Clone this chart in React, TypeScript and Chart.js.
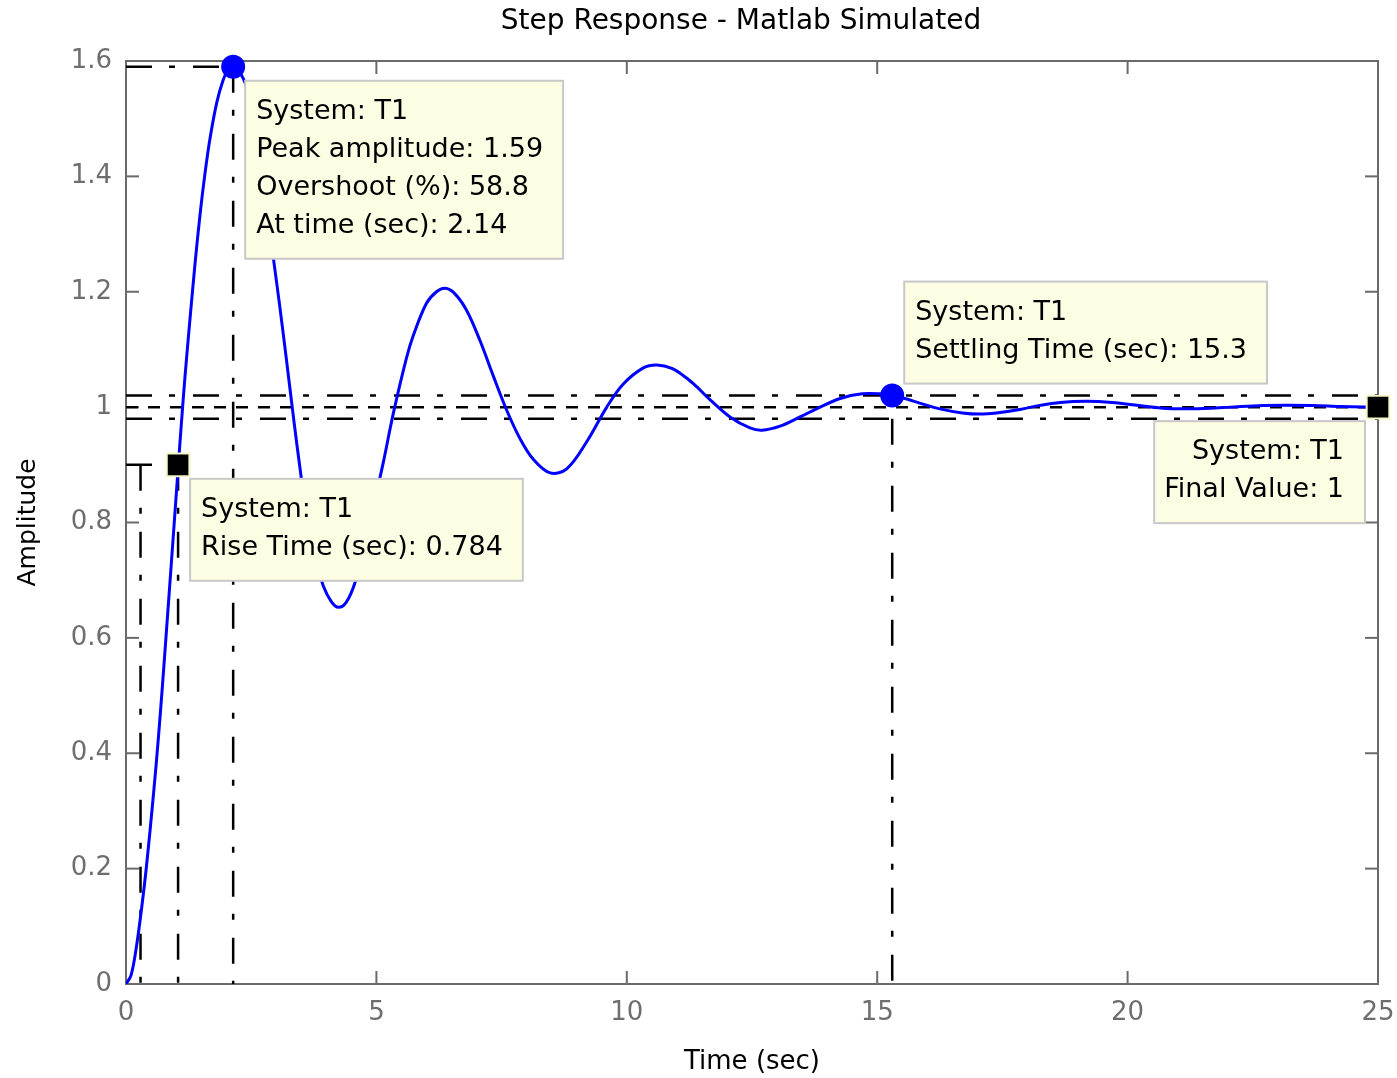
import React, { useEffect, useRef } from 'react';
import { Chart, registerables } from 'chart.js';

Chart.register(...registerables);

// ---- Data ----
const TIME = [
  0, 0.1, 0.2, 0.31, 0.41, 0.55, 0.65, 0.73, 0.81, 0.91, 0.98, 1.04, 1.1, 1.18, 1.28, 1.38, 1.48, 1.58, 1.68, 1.81, 1.94, 2.04, 2.14,
  2.34, 2.5, 2.7, 2.94, 3.07, 3.2, 3.35, 3.47, 3.6, 3.75, 3.94, 4.1, 4.24, 4.4, 4.57, 4.8, 5.0, 5.14, 5.34, 5.6, 5.74, 6.0, 6.2, 6.37,
  6.55, 6.8, 7.07, 7.33, 7.6, 7.87, 8.13, 8.47, 8.8, 9.2, 9.6, 9.93, 10.33, 10.6, 10.9, 11.2, 11.4, 11.66, 12.06, 12.46, 12.7, 13.06,
  13.46, 13.86, 14.26, 14.7, 15.05, 15.3, 15.59, 15.85, 16.25, 16.7, 17.05, 17.38, 17.85, 18.25, 18.65, 19.18, 19.7, 20.1, 20.7,
  21.18, 21.65, 22.05, 22.7, 23.7, 24.25, 25,
];
const AMPLITUDE = [
  0, 0.015, 0.06, 0.13, 0.205, 0.33, 0.43, 0.52, 0.615, 0.735, 0.82, 0.893, 0.965, 1.055, 1.155, 1.25, 1.335, 1.407, 1.467, 1.527, 1.567, 1.585, 1.59,
  1.57, 1.525, 1.42, 1.26, 1.175, 1.085, 0.978, 0.897, 0.815, 0.745, 0.69, 0.663, 0.653, 0.662, 0.695, 0.77, 0.85, 0.905, 0.99, 1.085, 1.125, 1.18, 1.2, 1.206,
  1.198, 1.168, 1.115, 1.055, 0.995, 0.945, 0.91, 0.886, 0.893, 0.94, 1.0, 1.04, 1.068, 1.073, 1.067, 1.05, 1.035, 1.013, 0.983, 0.964, 0.96, 0.967,
  0.983, 1.0, 1.015, 1.023, 1.023, 1.02, 1.014, 1.007, 0.997, 0.99, 0.988, 0.99, 0.996, 1.003, 1.008, 1.01, 1.008, 1.004, 0.998,
  0.997, 0.998, 1.0, 1.003, 1.003, 1.001, 1.0,
];

const X_TICKS = [0, 5, 10, 15, 20, 25];
const X_TICK_LABELS = ['0', '5', '10', '15', '20', '25'];
const Y_TICKS = [0, 0.2, 0.4, 0.6, 0.8, 1, 1.2, 1.4, 1.6];
const Y_TICK_LABELS = ['0', '0.2', '0.4', '0.6', '0.8', '1', '1.2', '1.4', '1.6'];

const PEAK_TIME = 2.14;
const PEAK_AMPLITUDE = 1.59;
const RISE_T10 = 0.29;
const RISE_T90 = 1.04;
const RISE_LEVEL = 0.9;
const SETTLING_TIME = 15.3;
const SETTLING_AMPLITUDE = 1.02;
const BAND_UPPER = 1.02;
const BAND_LOWER = 0.98;
const FINAL_TIME = 25;
const FINAL_VALUE = 1;

const TITLE = 'Step Response - Matlab Simulated';
const X_TITLE = 'Time (sec)';
const Y_TITLE = 'Amplitude';

const PEAK_LINES = ['System: T1', 'Peak amplitude: 1.59', 'Overshoot (%): 58.8', 'At time (sec): 2.14'];
const RISE_LINES = ['System: T1', 'Rise Time (sec): 0.784'];
const SETTLE_LINES = ['System: T1', 'Settling Time (sec): 15.3'];
const FINAL_LINES = ['System: T1', 'Final Value: 1'];

const FONT = "'DejaVu Sans', sans-serif";
const DASH_DOT = [26, 17, 6, 18];
const DASH = [12, 10];

const refLine = (pts: { x: number; y: number }[], dash: number[]) => ({
  type: 'line' as const,
  data: pts,
  borderColor: '#000000',
  borderWidth: 2.5,
  borderDash: dash,
  pointRadius: 0,
  fill: false,
  tension: 0,
});

const framePlugin = {
  id: 'frame',
  beforeDatasetsDraw(chart: any) {
    const { ctx, chartArea, scales } = chart;
    const { left, right, top, bottom } = chartArea;
    ctx.save();
    ctx.strokeStyle = '#6a6a6a';
    ctx.lineWidth = 2;
    ctx.strokeRect(left, top, right - left, bottom - top);
    const seg = (x1: number, y1: number, x2: number, y2: number) => {
      ctx.beginPath();
      ctx.moveTo(x1, y1);
      ctx.lineTo(x2, y2);
      ctx.stroke();
    };
    scales.x.ticks.forEach((t: any) => {
      const px = scales.x.getPixelForValue(t.value);
      seg(px, bottom, px, bottom - 13);
      seg(px, top, px, top + 13);
    });
    scales.y.ticks.forEach((t: any) => {
      const py = scales.y.getPixelForValue(t.value);
      seg(left, py, left + 13, py);
      seg(right, py, right - 13, py);
    });
    // title, centred a little left of the plot centre like the reference
    ctx.fillStyle = '#000000';
    ctx.font = `28px ${FONT}`;
    ctx.textAlign = 'center';
    ctx.textBaseline = 'middle';
    ctx.fillText(TITLE, (left + right) / 2 - 11, 22);
    ctx.restore();
  },
};

const boxPlugin = {
  id: 'dataTips',
  afterDatasetsDraw(chart: any) {
    const { ctx, scales } = chart;
    const X = (v: number) => scales.x.getPixelForValue(v);
    const Y = (v: number) => scales.y.getPixelForValue(v);
    ctx.save();
    ctx.font = `27px ${FONT}`;
    const lineGap = 38;
    const draw = (lines: string[], anchorX: number, anchorY: number, place: string) => {
      const tw = Math.max(...lines.map((l) => ctx.measureText(l).width));
      const w = tw + 31;
      const h = lines.length * lineGap + 26;
      let bx = anchorX + 12;
      let by = anchorY + 14;
      if (place === 'above') by = anchorY - 12 - h;
      if (place === 'left') bx = anchorX - 13 - w;
      ctx.fillStyle = '#fdfde4';
      ctx.fillRect(bx, by, w, h);
      ctx.strokeStyle = '#c8c8c8';
      ctx.lineWidth = 2;
      ctx.strokeRect(bx, by, w, h);
      ctx.fillStyle = '#000000';
      ctx.textBaseline = 'middle';
      lines.forEach((l, i) => {
        const ty = by + 31 + i * lineGap;
        if (place === 'left') {
          ctx.textAlign = 'right';
          ctx.fillText(l, bx + w - 21, ty);
        } else {
          ctx.textAlign = 'left';
          ctx.fillText(l, bx + 11, ty);
        }
      });
    };
    draw(PEAK_LINES, X(PEAK_TIME), Y(PEAK_AMPLITUDE), 'below');
    draw(RISE_LINES, X(RISE_T90), Y(RISE_LEVEL), 'below');
    draw(SETTLE_LINES, X(SETTLING_TIME), Y(SETTLING_AMPLITUDE), 'above');
    draw(FINAL_LINES, X(FINAL_TIME), Y(FINAL_VALUE), 'left');
    ctx.restore();
  },
};

export default function App() {
  const ref = useRef<HTMLCanvasElement>(null);
  useEffect(() => {
    if (!ref.current) return;
    const curve = TIME.map((t, i) => ({ x: t, y: AMPLITUDE[i] }));
    const chart = new Chart(ref.current, {
      type: 'line',
      data: {
        datasets: [
          {
            type: 'line',
            data: [{ x: PEAK_TIME, y: PEAK_AMPLITUDE }, { x: SETTLING_TIME, y: SETTLING_AMPLITUDE }],
            showLine: false,
            pointStyle: 'circle',
            pointRadius: 11,
            pointBackgroundColor: '#0000ff',
            pointBorderColor: '#0000ff',
            pointBorderWidth: 2,
            clip: false,
          } as any,
          {
            type: 'line',
            data: [{ x: RISE_T90, y: RISE_LEVEL }, { x: FINAL_TIME, y: FINAL_VALUE }],
            showLine: false,
            pointStyle: 'rect',
            pointRadius: 16,
            pointBackgroundColor: '#000000',
            pointBorderColor: '#f4f4c4',
            pointBorderWidth: 2,
            clip: false,
          } as any,
          {
            type: 'line',
            data: curve,
            borderColor: '#0000ff',
            borderWidth: 3,
            pointRadius: 0,
            fill: false,
            tension: 0.35,
          } as any,
          refLine([{ x: 0, y: PEAK_AMPLITUDE }, { x: PEAK_TIME, y: PEAK_AMPLITUDE }], DASH_DOT),
          refLine([{ x: PEAK_TIME, y: PEAK_AMPLITUDE }, { x: PEAK_TIME, y: 0 }], DASH_DOT),
          refLine([{ x: 0, y: RISE_LEVEL }, { x: RISE_T90, y: RISE_LEVEL }], DASH_DOT),
          refLine([{ x: RISE_T10, y: RISE_LEVEL }, { x: RISE_T10, y: 0 }], DASH_DOT),
          refLine([{ x: RISE_T90, y: RISE_LEVEL }, { x: RISE_T90, y: 0 }], DASH_DOT),
          refLine([{ x: 0, y: BAND_UPPER }, { x: FINAL_TIME, y: BAND_UPPER }], DASH_DOT),
          refLine([{ x: 0, y: BAND_LOWER }, { x: FINAL_TIME, y: BAND_LOWER }], DASH_DOT),
          refLine([{ x: 0, y: FINAL_VALUE }, { x: FINAL_TIME, y: FINAL_VALUE }], DASH),
          refLine([{ x: SETTLING_TIME, y: BAND_LOWER }, { x: SETTLING_TIME, y: 0 }], DASH_DOT),
        ] as any,
      },
      options: {
        animation: false,
        responsive: false,
        events: [],
        layout: { padding: { left: 0, top: 61, right: 19, bottom: 0 } },
        plugins: {
          legend: { display: false },
          tooltip: { enabled: false },
          title: { display: false },
        },
        scales: {
          x: {
            type: 'linear',
            min: 0,
            max: 25,
            afterBuildTicks: (scale: any) => {
              scale.ticks = X_TICKS.map((v) => ({ value: v }));
            },
            afterFit: (scale: any) => {
              scale.height = 94;
              scale.paddingLeft = 0;
              scale.paddingRight = 0;
            },
            ticks: {
              callback: (_v: any, i: number) => X_TICK_LABELS[i],
              color: '#6e6e6e',
              font: { family: FONT, size: 26 },
              padding: 14,
              maxRotation: 0,
              autoSkip: false,
            },
            grid: { display: false, drawTicks: false },
            border: { display: false },
            title: {
              display: true,
              text: X_TITLE,
              color: '#000000',
              font: { family: FONT, size: 26 },
              padding: { top: 0, bottom: 0 },
            },
          },
          y: {
            type: 'linear',
            min: 0,
            max: 1.6,
            afterBuildTicks: (scale: any) => {
              scale.ticks = Y_TICKS.map((v) => ({ value: v }));
            },
            afterFit: (scale: any) => {
              scale.width = 126;
              scale.paddingTop = 0;
              scale.paddingBottom = 0;
            },
            ticks: {
              callback: (_v: any, i: number) => Y_TICK_LABELS[i],
              color: '#6e6e6e',
              font: { family: FONT, size: 26 },
              padding: 14,
              autoSkip: false,
            },
            grid: { display: false, drawTicks: false },
            border: { display: false },
            title: {
              display: true,
              text: Y_TITLE,
              color: '#000000',
              font: { family: FONT, size: 25 },
              padding: { top: 13, bottom: 0 },
            },
          },
        },
      } as any,
      plugins: [framePlugin, boxPlugin],
    });
    return () => chart.destroy();
  }, []);
  return (
    <div style={{ position: 'absolute', left: 0, top: 0, width: 1397, height: 1078, background: '#ffffff' }}>
      <canvas ref={ref} width={1397} height={1078} style={{ display: 'block' }} />
    </div>
  );
}
